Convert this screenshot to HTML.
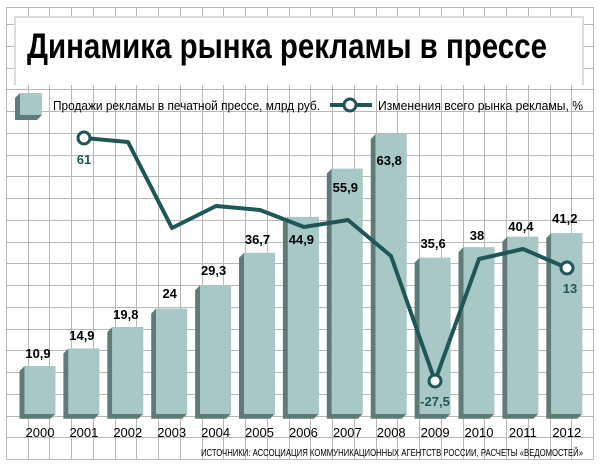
<!DOCTYPE html>
<html><head><meta charset="utf-8"><style>html,body{margin:0;padding:0;background:#fff}svg{display:block}</style></head>
<body>
<svg width="601" height="469" viewBox="0 0 601 469" xmlns="http://www.w3.org/2000/svg" font-family="Liberation Sans, sans-serif">
<rect width="601" height="469" fill="#fff"/>
<path fill="none" stroke="#b8b8b8" stroke-width="1" shape-rendering="crispEdges" d="
M6.5 7V459M28.5 7V459M49.5 7V459M71.5 7V459M93.5 7V459M115.5 7V459M136.5 7V459M158.5 7V459M180.5 7V459M202.5 7V459M223.5 7V459M245.5 7V459M267.5 7V459M289.5 7V459M310.5 7V459M332.5 7V459M354.5 7V459M376.5 7V459M397.5 7V459M419.5 7V459M441.5 7V459M463.5 7V459M484.5 7V459M506.5 7V459M528.5 7V459M550.5 7V459M571.5 7V459M593.5 7V459
M6 7.5H594M6 24.5H594M6 46.5H594M6 68.5H594M6 89.5H594M6 111.5H594M6 133.5H594M6 155.5H594M6 176.5H594M6 198.5H594M6 220.5H594M6 242.5H594M6 263.5H594M6 285.5H594M6 307.5H594M6 329.5H594M6 350.5H594M6 372.5H594M6 394.5H594M6 416.5H594M6 437.5H594M6 459.5H594"/>
<rect x="15" y="17" width="568" height="68" fill="#fff"/>
<path d="M15 85V17H583V85" fill="none" stroke="#dcdcdc" stroke-width="2"/>
<text x="27" y="58" font-size="35" font-weight="bold" textLength="520" lengthAdjust="spacingAndGlyphs">Динамика рынка рекламы в прессе</text>
<polygon points="20,93 15,98 15,120 37,120 42,115 20,115" fill="#5f7b78"/>
<rect x="20" y="93" width="22" height="22" fill="#a8c8c5"/>
<text x="53" y="110" font-size="13" textLength="267" lengthAdjust="spacingAndGlyphs">Продажи рекламы в печатной прессе, млрд руб.</text>
<line x1="330" y1="105" x2="372" y2="105" stroke="#1f5656" stroke-width="4"/>
<circle cx="350" cy="105" r="6" fill="#fff" stroke="#1f5656" stroke-width="3"/>
<text x="378" y="110" font-size="13" textLength="205" lengthAdjust="spacingAndGlyphs">Изменения всего рынка рекламы, %</text>
<g id="bars"></g>
<g font-size="13" font-weight="bold" text-anchor="middle" id="blabels"></g>
<g font-size="13" text-anchor="middle" id="years"></g>
<polyline points="84,138 128,142 172,228 216,206 260,210 304,227 348,220 391,256 435,381 479,259 523,249 567,268" fill="none" stroke="#1f5656" stroke-width="4" stroke-linejoin="round"/>
<circle cx="84" cy="138" r="6" fill="#fff" stroke="#1f5656" stroke-width="3"/>
<circle cx="435" cy="381" r="6" fill="#fff" stroke="#1f5656" stroke-width="3"/>
<circle cx="567" cy="268" r="6" fill="#fff" stroke="#1f5656" stroke-width="3"/>
<g font-size="13" font-weight="bold" fill="#1f5656" text-anchor="middle">
<text x="84" y="164">61</text>
<text x="435" y="406">-27,5</text>
<text x="570" y="293">13</text>
</g>
<text x="583" y="456" font-size="10" text-anchor="end" textLength="382" lengthAdjust="spacingAndGlyphs">ИСТОЧНИКИ: АССОЦИАЦИЯ КОММУНИКАЦИОННЫХ АГЕНТСТВ РОССИИ, РАСЧЕТЫ «ВЕДОМОСТЕЙ»</text>
<script>
var ns="http://www.w3.org/2000/svg";
var vals=[10.9,14.9,19.8,24,29.3,36.7,44.9,55.9,63.8,35.6,38,40.4,41.2];
var labs=["10,9","14,9","19,8","24","29,3","36,7","44,9","55,9","63,8","35,6","38","40,4","41,2"];
var ly=[358,340,319,298,275,244,244,192,165,248,240,231,223];
var B=413.8,s=4.386;
var gb=document.getElementById("bars"),gl=document.getElementById("blabels"),gy=document.getElementById("years");
for(var i=0;i<13;i++){
 var c=40+i*43.9,x0=c-15.5,x1=c+15.5,t=B-vals[i]*s;
 var p=document.createElementNS(ns,"polygon");
 p.setAttribute("points",x0+","+t+" "+(x0-5)+","+(t+5)+" "+(x0-5)+","+(B+5)+" "+(x1-5)+","+(B+5)+" "+x1+","+B+" "+x0+","+B);
 p.setAttribute("fill","#5f7b78");gb.appendChild(p);
 var r=document.createElementNS(ns,"rect");
 r.setAttribute("x",x0);r.setAttribute("y",t);r.setAttribute("width",31);r.setAttribute("height",B-t);r.setAttribute("fill","#a8c8c5");gb.appendChild(r);
 var tx=document.createElementNS(ns,"text");tx.setAttribute("x",c-2);tx.setAttribute("y",ly[i]);tx.textContent=labs[i];gl.appendChild(tx);
 var ty=document.createElementNS(ns,"text");ty.setAttribute("x",c);ty.setAttribute("y",437);ty.textContent=2000+i;gy.appendChild(ty);
}
</script>
</svg>
</body></html>
